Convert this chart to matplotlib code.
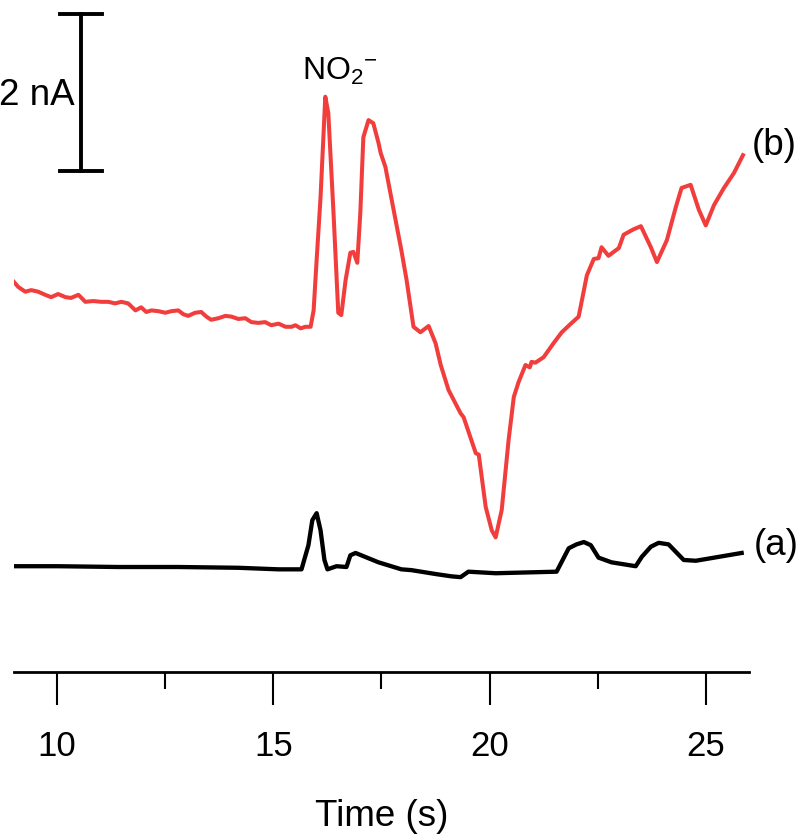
import matplotlib
matplotlib.use("Agg")
import matplotlib.pyplot as plt

plt.rcParams['font.family'] = ['Liberation Sans', 'DejaVu Sans']
plt.rcParams['mathtext.fontset'] = 'custom'
plt.rcParams['mathtext.rm'] = 'Liberation Sans'
plt.rcParams['mathtext.it'] = 'Liberation Sans:italic'

# trace (a) - time (s) and current (nA)
t_a = [8.96, 10.02, 11.41, 12.80, 14.19, 15.12, 15.65, 15.81, 15.90, 16.00, 16.09,
       16.18, 16.25, 16.46, 16.69, 16.78, 16.90, 17.43, 17.96, 18.19, 18.75, 19.12,
       19.33, 19.51, 20.14, 21.55, 21.83, 22.01, 22.18, 22.34, 22.52, 22.82, 23.38,
       23.52, 23.73, 23.91, 24.14, 24.49, 24.77, 25.30, 25.83]
i_a = [0.01, 0.01, 0.00, 0.00, -0.01, -0.03, -0.03, 0.28, 0.60, 0.69, 0.47,
       0.09, -0.03, 0.01, 0.00, 0.15, 0.18, 0.06, -0.03, -0.04, -0.09, -0.12,
       -0.13, -0.06, -0.08, -0.06, 0.24, 0.29, 0.32, 0.28, 0.12, 0.06, 0.01,
       0.13, 0.26, 0.31, 0.29, 0.09, 0.08, 0.13, 0.18]

# trace (b)
t_b = [8.96, 9.10, 9.26, 9.40, 9.56, 9.72, 9.86, 10.02, 10.19, 10.32, 10.49, 10.65,
       10.83, 11.02, 11.18, 11.34, 11.48, 11.64, 11.81, 11.94, 12.06, 12.18, 12.34,
       12.50, 12.64, 12.80, 12.92, 13.03, 13.19, 13.33, 13.45, 13.56, 13.73, 13.89,
       14.03, 14.19, 14.35, 14.49, 14.65, 14.81, 14.95, 15.12, 15.28, 15.42, 15.51,
       15.63, 15.74, 15.86, 15.93, 16.00, 16.09, 16.20, 16.27, 16.39, 16.50, 16.57,
       16.67, 16.78, 16.85, 16.94, 17.01, 17.08, 17.20, 17.31, 17.43, 17.48, 17.59,
       17.78, 17.96, 18.08, 18.24, 18.40, 18.59, 18.75, 18.87, 19.05, 19.33, 19.40,
       19.68, 19.75, 19.91, 20.05, 20.14, 20.28, 20.44, 20.56, 20.67, 20.83, 20.93,
       20.97, 21.06, 21.25, 21.48, 21.67, 21.88, 22.06, 22.25, 22.41, 22.52, 22.59,
       22.75, 22.99, 23.10, 23.33, 23.50, 23.73, 23.87, 24.10, 24.31, 24.44, 24.65,
       24.84, 25.00, 25.19, 25.42, 25.65, 25.86]
i_b = [3.68, 3.59, 3.53, 3.55, 3.53, 3.49, 3.46, 3.50, 3.46, 3.45, 3.49, 3.40,
       3.41, 3.40, 3.40, 3.38, 3.40, 3.38, 3.29, 3.33, 3.27, 3.29, 3.28,
       3.26, 3.28, 3.29, 3.24, 3.22, 3.26, 3.27, 3.21, 3.17, 3.19, 3.22,
       3.21, 3.18, 3.19, 3.14, 3.13, 3.14, 3.10, 3.12, 3.08, 3.08, 3.10,
       3.06, 3.08, 3.08, 3.29, 3.94, 4.74, 6.03, 5.82, 4.54, 3.26, 3.23,
       3.68, 4.03, 4.04, 3.90, 4.54, 5.51, 5.73, 5.69, 5.44, 5.31, 5.13,
       4.58, 4.06, 3.68, 3.08, 3.01, 3.09, 2.87, 2.59, 2.27, 1.97, 1.92,
       1.46, 1.44, 0.77, 0.47, 0.38, 0.73, 1.63, 2.18, 2.37, 2.59, 2.56,
       2.63, 2.62, 2.69, 2.87, 3.01, 3.12, 3.21, 3.74, 3.95, 3.96, 4.10,
       3.99, 4.09, 4.26, 4.33, 4.37, 4.10, 3.91, 4.19, 4.62, 4.86, 4.90,
       4.58, 4.38, 4.64, 4.86, 5.05, 5.28]

major_ticks = [10, 15, 20, 25]
minor_ticks = [12.5, 17.5, 22.5]

fig = plt.figure(figsize=(8, 8.36), dpi=100)
ax = fig.add_axes([0.0175, 0.1962, 0.91875, 0.8038])

ax.plot(t_b, i_b, color='#f23d3d', lw=2.9, solid_joinstyle='round')
ax.plot(t_a, i_a, color='black', lw=3.1, solid_joinstyle='round')

# scale bar 2 nA
ax.plot([10.56, 10.56], [5.08, 7.09], color='black', lw=2.8)
ax.plot([10.07, 11.04], [5.08, 5.08], color='black', lw=2.8)
ax.plot([10.07, 11.04], [7.09, 7.09], color='black', lw=2.8)
ax.text(10.40, 5.92, '2 nA', ha='right', va='baseline', fontsize=26.5)

ax.text(16.55, 6.24, 'NO$_2{}^{-}$', ha='center', va='baseline', fontsize=23)
ax.text(26.06, 5.41, '(b)', ha='left', va='center', fontsize=26.5, clip_on=False)
ax.text(26.1, 0.28, '(a)', ha='left', va='center', fontsize=26.5, clip_on=False)

ax.set_xlim(9, 26)
ax.set_ylim(-1.346, 7.27)
ax.set_xticks(major_ticks)
ax.set_xticks(minor_ticks, minor=True)
ax.tick_params(axis='x', which='major', direction='out', length=24, width=1.5,
               labelsize=25, pad=18)
ax.tick_params(axis='x', which='minor', direction='out', length=12, width=1.5)
ax.set_yticks([])
for s in ['top', 'right', 'left']:
    ax.spines[s].set_visible(False)
ax.spines['bottom'].set_linewidth(2)
ax.set_xlabel('Time (s)', fontsize=26.5, labelpad=26)

fig.savefig('out.png', dpi=100)
